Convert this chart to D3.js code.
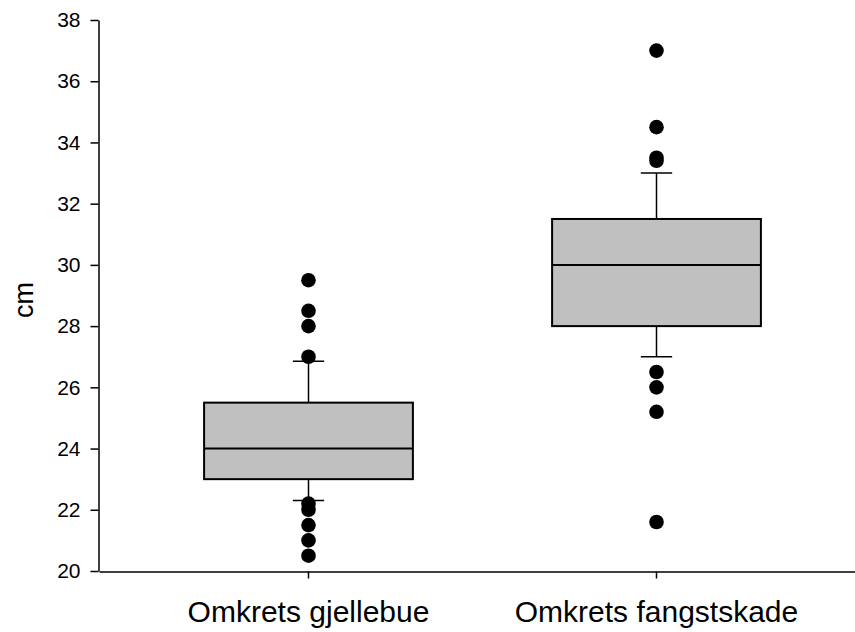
<!DOCTYPE html>
<html>
<head>
<meta charset="utf-8">
<script src="https://cdn.jsdelivr.net/npm/d3@7"></script>
<style>
  html, body { margin: 0; padding: 0; background: #fff; }
  svg { display: block; font-family: Arial, "Liberation Sans", sans-serif; }
</style>
</head>
<body>
<svg id="chart" width="855" height="632"></svg>
<script>
// Box plot summary per group (cm)
const categories = ["Omkrets gjellebue", "Omkrets fangstskade"];
const q1Values = [23.0, 28.0];
const medianValues = [24.0, 30.0];
const q3Values = [25.5, 31.5];
const whiskerLow = [22.3, 27.0];
const whiskerHigh = [26.85, 33.0];
const outliers = [
  [29.5, 28.5, 28.0, 27.0, 22.2, 22.0, 21.5, 21.0, 20.5],
  [37.0, 34.5, 33.5, 33.4, 26.5, 26.0, 25.2, 21.6]
];
const yTicks = [20, 22, 24, 26, 28, 30, 32, 34, 36, 38];
const yLabel = "cm";

const svg = d3.select("#chart");

const x = d3.scaleBand()
  .domain(categories)
  .range([99, 866])
  .paddingInner(0.4)
  .paddingOuter(0.302);

const y = d3.scaleLinear()
  .domain([20, 38])
  .range([571, 20]);

const boxes = categories.map((c, i) => ({
  cat: c,
  q1: q1Values[i],
  med: medianValues[i],
  q3: q3Values[i],
  lo: whiskerLow[i],
  hi: whiskerHigh[i],
  out: outliers[i]
}));

const bw = x.bandwidth();
const capW = bw * 0.15;

const g = svg.append("g");

const box = g.selectAll("g.box").data(boxes).join("g").attr("class", "box");

// whiskers
box.append("line")
  .attr("x1", d => x(d.cat) + bw / 2).attr("x2", d => x(d.cat) + bw / 2)
  .attr("y1", d => y(d.q3)).attr("y2", d => y(d.hi))
  .attr("stroke", "#000").attr("stroke-width", 1.5);
box.append("line")
  .attr("x1", d => x(d.cat) + bw / 2).attr("x2", d => x(d.cat) + bw / 2)
  .attr("y1", d => y(d.q1)).attr("y2", d => y(d.lo))
  .attr("stroke", "#000").attr("stroke-width", 1.5);
// whisker caps
box.append("line")
  .attr("x1", d => x(d.cat) + bw / 2 - capW / 2).attr("x2", d => x(d.cat) + bw / 2 + capW / 2)
  .attr("y1", d => y(d.hi)).attr("y2", d => y(d.hi))
  .attr("stroke", "#000").attr("stroke-width", 1.5);
box.append("line")
  .attr("x1", d => x(d.cat) + bw / 2 - capW / 2).attr("x2", d => x(d.cat) + bw / 2 + capW / 2)
  .attr("y1", d => y(d.lo)).attr("y2", d => y(d.lo))
  .attr("stroke", "#000").attr("stroke-width", 1.5);

// boxes
box.append("rect")
  .attr("x", d => x(d.cat))
  .attr("width", bw)
  .attr("y", d => y(d.q3))
  .attr("height", d => y(d.q1) - y(d.q3))
  .attr("fill", "#c0c0c0")
  .attr("stroke", "#000")
  .attr("stroke-width", 2);

// medians
box.append("line")
  .attr("x1", d => x(d.cat)).attr("x2", d => x(d.cat) + bw)
  .attr("y1", d => y(d.med)).attr("y2", d => y(d.med))
  .attr("stroke", "#000").attr("stroke-width", 2);

// outliers
box.selectAll("circle")
  .data(d => d.out.map(v => ({ cat: d.cat, v })))
  .join("circle")
  .attr("cx", d => x(d.cat) + bw / 2)
  .attr("cy", d => y(d.v))
  .attr("r", 7.3)
  .attr("fill", "#000");

// y axis
const yAxis = svg.append("g")
  .attr("transform", "translate(98.5,0)")
  .call(d3.axisLeft(y).tickValues(yTicks).tickSize(8).tickSizeOuter(0).tickPadding(10));
yAxis.attr("font-size", null).style("font-size", "21px");
yAxis.select(".domain").attr("stroke-width", 1.5);
yAxis.selectAll(".tick line").attr("stroke-width", 1.5);
yAxis.selectAll(".tick text")
  .style("font-size", "21px")
  .attr("fill", "#000");

// x axis
const xAxis = svg.append("g")
  .attr("transform", "translate(0,571.5)")
  .call(d3.axisBottom(x).tickSize(7).tickSizeOuter(0).tickPadding(22));
xAxis.attr("font-size", null).style("font-size", "30px");
xAxis.select(".domain").attr("stroke-width", 1.5);
xAxis.selectAll(".tick line").attr("stroke-width", 1.5);
xAxis.selectAll(".tick text")
  .style("font-size", "30px")
  .attr("fill", "#000");

// y axis title
svg.append("text")
  .attr("transform", "translate(33,300) rotate(-90)")
  .attr("text-anchor", "middle")
  .style("font-size", "27px")
  .attr("fill", "#000")
  .text(yLabel);
</script>
</body>
</html>
